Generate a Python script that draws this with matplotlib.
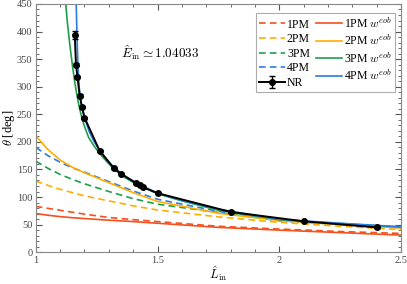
import matplotlib
matplotlib.use("Agg")
import matplotlib.pyplot as plt
from matplotlib.ticker import MultipleLocator

plt.rcParams['font.family'] = ['Liberation Serif', 'DejaVu Serif']
plt.rcParams['mathtext.fontset'] = 'cm'

# values (L_in, theta in deg)
L_pm = [1.0, 1.05, 1.1, 1.15, 1.2, 1.3, 1.4, 1.5, 1.75, 2.0, 2.25, 2.5]
pm1 = [83, 79.5, 76, 72.5, 69, 63, 59, 55.5, 47, 42, 37.5, 34]
pm2 = [129, 121, 114, 108, 102, 93, 84, 76.5, 64, 54, 47, 41]
pm3 = [165, 152, 141, 132, 124, 110, 97, 87, 72, 57, 50.5, 44.5]
pm4 = [190, 175, 163, 153, 145, 128, 111, 96, 74, 58, 51, 45]
eob1 = [70, 67, 64.5, 62.5, 61, 58, 55.5, 52.5, 45, 40, 35.5, 31]
eob2 = [211, 186, 167, 154, 144, 126, 108, 92, 70.5, 57.5, 50, 44]

L_eob3 = [1.123, 1.13, 1.14, 1.15, 1.16, 1.17, 1.18, 1.19, 1.2, 1.217, 1.24,
          1.262, 1.29, 1.32, 1.36, 1.41, 1.5, 1.6, 1.75, 2.0, 2.25, 2.5]
eob3 = [450, 415, 375, 340, 308, 282, 260, 242, 228, 208, 192,
        179, 165, 151, 137, 124, 106, 93, 76, 59, 52, 45.5]
L_eob4 = [1.166, 1.169, 1.173, 1.178, 1.186, 1.2, 1.22, 1.24, 1.26, 1.29,
          1.32, 1.36, 1.41, 1.5, 1.6, 1.75, 2.0, 2.25, 2.5]
eob4 = [450, 394, 340, 300, 270, 244, 218, 200, 186, 169,
        154, 140, 126, 107, 94, 78, 59.5, 52.5, 46]

L_nr = [1.16, 1.165, 1.171, 1.18, 1.19, 1.2, 1.262, 1.321, 1.35, 1.413, 1.428, 1.44, 1.5, 1.8, 2.1, 2.4]
theta_nr = [394, 340, 318, 284, 263, 244, 184, 152, 142, 125, 121, 118, 107, 73, 56, 45]
err_nr = [7, 3, 2, 2, 2, 2, 1, 1, 1, 1, 1, 1, 1, 1, 1, 1]

c1 = '#F4511E'
c2 = '#FFAE00'
c3 = '#1E9E4A'
c4 = '#2A7DE1'

fig = plt.figure(figsize=(4.07, 2.84), dpi=100)
ax = fig.add_axes([0.088, 0.112, 0.897, 0.874])

dash = (0, (4, 2.5))
lw = 1.2
h_pm1, = ax.plot(L_pm, pm1, color=c1, ls=dash, lw=lw, label='1PM')
h_pm2, = ax.plot(L_pm, pm2, color=c2, ls=dash, lw=lw, label='2PM')
h_pm3, = ax.plot(L_pm, pm3, color=c3, ls=dash, lw=lw, label='3PM')
h_pm4, = ax.plot(L_pm, pm4, color=c4, ls=dash, lw=lw, label='4PM')
h_e1, = ax.plot(L_pm, eob1, color=c1, lw=lw, label=r'1PM $w^{eob}$')
h_e2, = ax.plot(L_pm, eob2, color=c2, lw=lw, label=r'2PM $w^{eob}$')
h_e3, = ax.plot(L_eob3, eob3, color=c3, lw=lw, label=r'3PM $w^{eob}$')
h_e4, = ax.plot(L_eob4, eob4, color=c4, lw=lw, label=r'4PM $w^{eob}$')
h_nr = ax.errorbar(L_nr, theta_nr, yerr=err_nr, color='black', marker='o', ms=4,
                   lw=1.4, capsize=2, elinewidth=1, label='NR', zorder=5)

ax.set_xlim(1, 2.5)
ax.set_ylim(0, 450)
ax.xaxis.set_minor_locator(MultipleLocator(0.1))
ax.yaxis.set_major_locator(MultipleLocator(50))
ax.yaxis.set_minor_locator(MultipleLocator(10))
ax.set_xticks([1, 1.5, 2, 2.5])
ax.set_xticklabels(['1', '1.5', '2', '2.5'])
ax.tick_params(which='both', direction='in', top=True, right=True,
               colors='#555555', labelsize=7.5, labelcolor='#444444', pad=2.5)
ax.tick_params(which='major', length=4)
ax.tick_params(which='minor', length=2)
for s in ax.spines.values():
    s.set_color('#888888')

ax.set_xlabel(r'$\hat{L}_{\rm in}$', fontsize=9, labelpad=0)
ax.set_ylabel(r'$\theta$ [deg]', fontsize=9, labelpad=0)
ax.text(1.35, 362, r'$\hat{E}_{\rm in}\simeq 1.04033$', fontsize=9.5, va='center')

handles = [h_pm1, h_pm2, h_pm3, h_pm4, h_nr, h_e1, h_e2, h_e3, h_e4]
leg = ax.legend(handles, [h.get_label() for h in handles], ncol=2,
                loc='upper right', fontsize=8.5, frameon=True,
                fancybox=False, edgecolor='#999999', handlelength=2.2,
                handletextpad=0.2, columnspacing=0.5, labelspacing=0.22,
                borderpad=0.25, borderaxespad=0, bbox_to_anchor=(0.985, 0.965))
leg.get_frame().set_linewidth(0.8)

fig.savefig('out.png', dpi=100)
